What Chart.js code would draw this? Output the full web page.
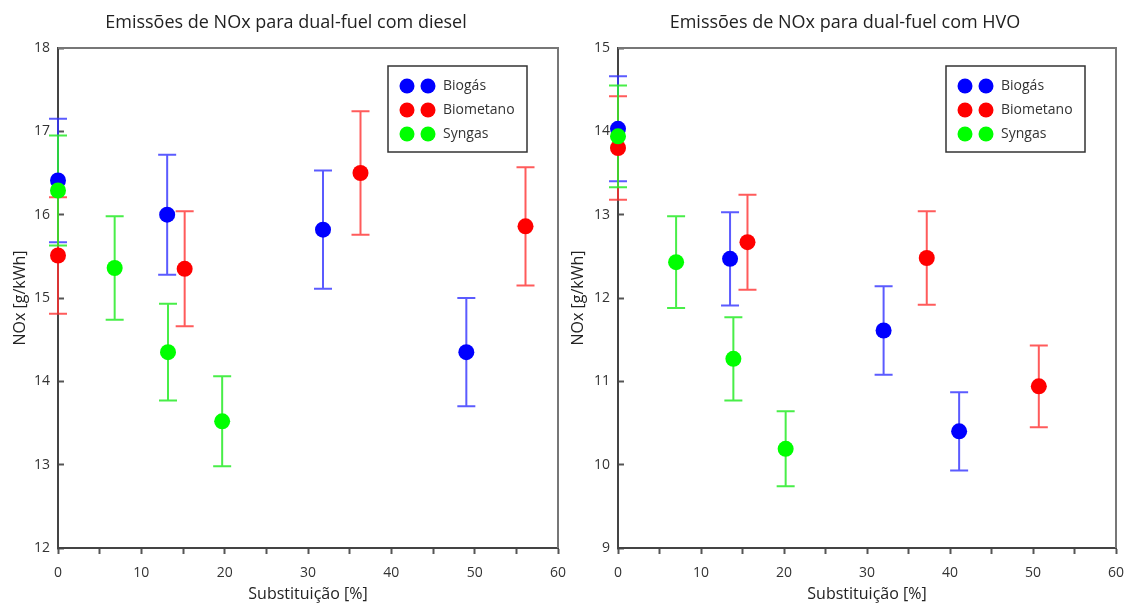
<!DOCTYPE html>
<html>
<head>
<meta charset="utf-8">
<title>Emissões de NOx</title>
<script src="https://cdn.jsdelivr.net/npm/chart.js@4"></script>
<style>
  body { margin: 0; background: #fff; }
  #wrap { position: relative; width: 1125px; height: 604px; }
  .box { position: absolute; top: 0; }
  #boxDiesel { left: 0; }
  #boxHvo { left: 562px; }
</style>
</head>
<body>
<div id="wrap">
  <div class="box" id="boxDiesel"><canvas id="noxDiesel" width="572" height="604"></canvas></div>
  <div class="box" id="boxHvo"><canvas id="noxHvo" width="563" height="604"></canvas></div>
</div>
<script>
const seriesNames = ['Biogás', 'Biometano', 'Syngas'];
const pointColors = ['#0000ff', '#ff0000', '#00ff00'];
const barColors = ['rgba(50,50,255,0.8)', 'rgba(255,50,50,0.8)', 'rgba(40,235,40,0.85)'];

const xTicks = [0, 10, 20, 30, 40, 50, 60];

// dual-fuel com diesel
const dieselBiogasX = [0, 13.1, 31.8, 49.0];
const dieselBiogasY = [16.41, 16.0, 15.82, 14.35];
const dieselBiogasErr = [0.74, 0.72, 0.71, 0.65];

const dieselBiometanoX = [0, 15.2, 36.3, 56.1];
const dieselBiometanoY = [15.51, 15.35, 16.5, 15.86];
const dieselBiometanoErr = [0.7, 0.69, 0.74, 0.71];

const dieselSyngasX = [0, 6.8, 13.2, 19.7];
const dieselSyngasY = [16.29, 15.36, 14.35, 13.52];
const dieselSyngasErr = [0.66, 0.62, 0.58, 0.54];

// dual-fuel com HVO
const hvoBiogasX = [0, 13.5, 32.0, 41.1];
const hvoBiogasY = [14.03, 12.47, 11.61, 10.4];
const hvoBiogasErr = [0.63, 0.56, 0.53, 0.47];

const hvoBiometanoX = [0, 15.6, 37.2, 50.7];
const hvoBiometanoY = [13.8, 12.67, 12.48, 10.94];
const hvoBiometanoErr = [0.62, 0.57, 0.56, 0.49];

const hvoSyngasX = [0, 7.0, 13.9, 20.2];
const hvoSyngasY = [13.94, 12.43, 11.27, 10.19];
const hvoSyngasErr = [0.61, 0.55, 0.5, 0.45];

const FONT = 'Open Sans';

function makeSet(i, xs, ys, errs) {
    return {
        label: seriesNames[i],
        data: xs.map((x, k) => ({ x: x, y: ys[k] })),
        errors: errs,
        barColor: barColors[i],
        backgroundColor: pointColors[i],
        borderColor: pointColors[i],
        pointRadius: 8,
        pointHoverRadius: 8,
        borderWidth: 0,
        order: 2 - i, // later series sit on top
        clip: false
    };
}

// vertical error bars with caps, drawn under the points
const errorBars = {
    id: 'errorBars',
    beforeDatasetsDraw(chart) {
        const ctx = chart.ctx;
        const xs = chart.scales.x, ys = chart.scales.y;
        ctx.save();
        ctx.lineWidth = 2;
        chart.data.datasets.forEach(ds => {
            ctx.strokeStyle = ds.barColor;
            ds.data.forEach((p, k) => {
                const px = xs.getPixelForValue(p.x);
                const top = ys.getPixelForValue(p.y + ds.errors[k]);
                const bot = ys.getPixelForValue(p.y - ds.errors[k]);
                ctx.beginPath();
                ctx.moveTo(px, top); ctx.lineTo(px, bot);
                ctx.moveTo(px - 9, top); ctx.lineTo(px + 9, top);
                ctx.moveTo(px - 9, bot); ctx.lineTo(px + 9, bot);
                ctx.stroke();
            });
        });
        ctx.restore();
    }
};

// top and right side of the plot frame
const frame = {
    id: 'frame',
    beforeDatasetsDraw(chart) {
        const { ctx, chartArea: a } = chart;
        ctx.save();
        ctx.strokeStyle = '#777';
        ctx.lineWidth = 2;
        ctx.beginPath();
        ctx.moveTo(a.left, a.top);
        ctx.lineTo(a.right, a.top);
        ctx.lineTo(a.right, a.bottom);
        ctx.stroke();
        ctx.restore();
    }
};

// boxed legend with two markers per entry
const boxLegend = {
    id: 'boxLegend',
    afterDraw(chart) {
        const { ctx, chartArea: a } = chart;
        const w = 139, h = 86;
        const left = a.right - 31 - w, top = a.top + 18;
        ctx.save();
        ctx.fillStyle = '#fff';
        ctx.fillRect(left, top, w, h);
        ctx.strokeStyle = '#333';
        ctx.lineWidth = 1.5;
        ctx.strokeRect(left, top, w, h);
        ctx.font = '14px "' + FONT + '"';
        ctx.textBaseline = 'middle';
        chart.data.datasets.forEach((ds, i) => {
            const cy = top + 20 + i * 24;
            ctx.fillStyle = ds.backgroundColor;
            [19, 40].forEach(dx => {
                ctx.beginPath();
                ctx.arc(left + dx, cy, 7.5, 0, Math.PI * 2);
                ctx.fill();
            });
            ctx.fillStyle = '#333';
            ctx.fillText(ds.label, left + 55, cy);
        });
        ctx.restore();
    }
};

function makeChart(id, title, yMin, yMax, datasets, leftPad, axisWidth, rightPad, yTitlePad) {
    const ctx = document.getElementById(id).getContext('2d');
    return new Chart(ctx, {
        type: 'scatter',
        data: { datasets: datasets },
        plugins: [frame, errorBars, boxLegend],
        options: {
            responsive: false,
            animation: false,
            layout: { padding: { left: leftPad, right: rightPad, top: 0, bottom: 0 } },
            plugins: {
                legend: { display: false },
                tooltip: { enabled: false },
                title: {
                    display: true,
                    text: title,
                    color: '#222',
                    font: { family: FONT, size: 18, weight: 'normal' },
                    padding: { top: 12, bottom: 14.4 }
                }
            },
            scales: {
                x: {
                    type: 'linear',
                    min: 0,
                    max: 60,
                    afterBuildTicks: s => { s.ticks = []; for (let v = 0; v <= 60; v += 5) s.ticks.push({ value: v }); },
                    ticks: {
                        autoSkip: false,
                        maxRotation: 0,
                        color: '#333',
                        padding: 11,
                        font: { family: FONT, size: 14 },
                        callback: v => xTicks.includes(v) ? String(v) : ''
                    },
                    grid: { drawOnChartArea: false, tickLength: 6, tickWidth: 2, tickColor: '#555' },
                    border: { color: '#444', width: 2 },
                    title: {
                        display: true,
                        text: 'Substituição [%]',
                        color: '#222',
                        font: { family: FONT, size: 16 },
                        padding: { top: 0, bottom: 0 }
                    },
                    afterFit: s => { s.height = 56; s.paddingLeft = 0; s.paddingRight = 0; }
                },
                y: {
                    min: yMin,
                    max: yMax,
                    ticks: {
                        stepSize: 1,
                        color: '#333',
                        padding: 14,
                        font: { family: FONT, size: 14 }
                    },
                    grid: { drawOnChartArea: false, tickLength: -6, tickWidth: 2, tickColor: '#555' },
                    border: { color: '#444', width: 2 },
                    title: {
                        display: true,
                        text: 'NOx [g/kWh]',
                        color: '#222',
                        font: { family: FONT, size: 16 },
                        padding: { top: yTitlePad, bottom: 0 }
                    },
                    afterFit: s => { s.width = axisWidth; }
                }
            }
        }
    });
}

makeChart('noxDiesel', 'Emissões de NOx para dual-fuel com diesel', 12, 18, [
    makeSet(0, dieselBiogasX, dieselBiogasY, dieselBiogasErr),
    makeSet(1, dieselBiometanoX, dieselBiometanoY, dieselBiometanoErr),
    makeSet(2, dieselSyngasX, dieselSyngasY, dieselSyngasErr)
], 14, 44, 14, -3.6);

makeChart('noxHvo', 'Emissões de NOx para dual-fuel com HVO', 9, 15, [
    makeSet(0, hvoBiogasX, hvoBiogasY, hvoBiogasErr),
    makeSet(1, hvoBiometanoX, hvoBiometanoY, hvoBiometanoErr),
    makeSet(2, hvoSyngasX, hvoSyngasY, hvoSyngasErr)
], 12, 44, 9, -5.6);
</script>
</body>
</html>
